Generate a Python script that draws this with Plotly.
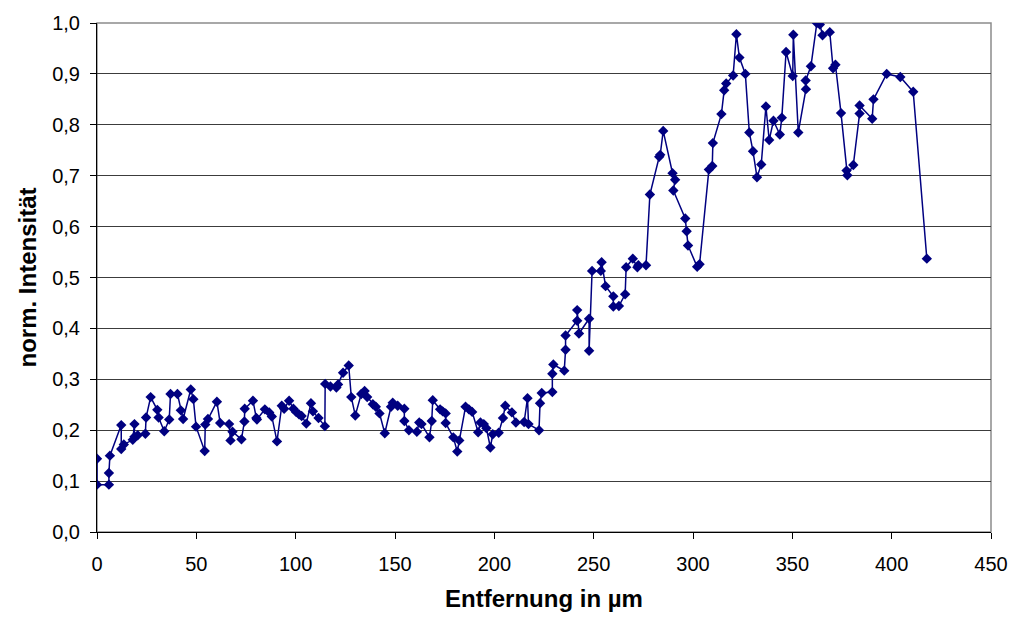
import plotly.graph_objects as go

# Intensitätsprofil: Entfernung (µm) und normierte Intensität
entfernung = [
    0, 0, 6, 6, 6.5, 12.2, 12.2, 13.5, 18, 18.85, 18.85, 20.5, 24.35, 24.7, 27.0,
    30.35, 31.0, 33.85, 36.35, 37.0, 40.5, 42.2, 43.35, 47.2, 48.5, 49.85, 54.2,
    54.5, 55.85, 60.35, 62.0, 66.5, 67.2, 68.2, 72.7, 74.2, 74.35, 78.5, 80.2,
    80.5, 84.5, 86.7, 88.0, 90.6, 93.0, 94.2, 96.7, 98.85, 100.2, 101.7, 103.0,
    105.35, 107.7, 108.7, 111.5, 114.7, 114.85, 117.5, 120.5, 121.35, 123.85,
    126.7, 128.0, 130.0, 133.0, 134.7, 136.0, 138.85, 140.35, 142.2, 144.85,
    148.0, 148.85, 151.35, 154.7, 154.7, 157.0, 161.0, 162.2, 163.35, 167.35,
    168.5, 169.0, 172.7, 174.0, 175.5, 175.5, 179.35, 181.35, 182.35, 185.5,
    187.2, 188.85, 191.85, 193.0, 194.7, 196.0, 198.0, 199.2, 202.2, 204.35,
    205.5, 208.85, 210.85, 215.0, 216.7, 217.2, 222.5, 223.0, 223.85, 229.2,
    229.2, 229.7, 235.2, 235.85, 235.85, 241.7, 241.7, 242.6, 247.7, 247.7,
    249.2, 253.6, 254.0, 256.0, 259.9, 259.9, 262.7, 265.85, 266.35, 269.7,
    272.0, 272.5, 276.35, 278.3, 283.0, 283.5, 285.0, 289.7, 291.0, 290.1,
    296.1, 296.8, 297.5, 302.1, 303.3, 308.0, 309.7, 310.0, 314.3, 315.7,
    316.7, 320.2, 321.85, 323.35, 326.35, 328.35, 330.2, 332.2, 334.35, 336.7,
    338.35, 340.5, 343.7, 344.7, 346.85, 350.2, 350.5, 353.0, 356.85, 356.7,
    359.35, 362.35, 363.85, 365.2, 368.85, 370.5, 371.7, 374.5, 377.3, 377.7,
    380.7, 383.85, 383.85, 390.2, 390.85, 397.5, 404.35, 410.85, 417.7,
]
intensitaet = [
    0.144, 0.093, 0.093, 0.116, 0.150, 0.210, 0.163, 0.172, 0.181, 0.212, 0.187,
    0.190, 0.193, 0.225, 0.265, 0.240, 0.225, 0.198, 0.221, 0.271, 0.271, 0.239,
    0.222, 0.280, 0.261, 0.207, 0.159, 0.211, 0.222, 0.256, 0.214, 0.212, 0.180,
    0.197, 0.182, 0.217, 0.242, 0.258, 0.224, 0.221, 0.241, 0.235, 0.227, 0.178,
    0.248, 0.242, 0.258, 0.242, 0.236, 0.231, 0.228, 0.213, 0.253, 0.237, 0.224,
    0.208, 0.291, 0.286, 0.284, 0.290, 0.313, 0.327, 0.265, 0.229, 0.271, 0.277,
    0.265, 0.251, 0.246, 0.233, 0.194, 0.246, 0.254, 0.248, 0.242, 0.218, 0.200,
    0.197, 0.215, 0.212, 0.186, 0.218, 0.259, 0.241, 0.237, 0.233, 0.214, 0.186,
    0.158, 0.180, 0.246, 0.241, 0.236, 0.196, 0.215, 0.212, 0.204, 0.166, 0.192,
    0.195, 0.224, 0.248, 0.235, 0.215, 0.216, 0.263, 0.212, 0.200, 0.253, 0.273,
    0.275, 0.311, 0.329, 0.317, 0.358, 0.386, 0.415, 0.436, 0.390, 0.419, 0.356,
    0.513, 0.513, 0.530, 0.483, 0.463, 0.443, 0.444, 0.467, 0.520, 0.537, 0.520,
    0.524, 0.524, 0.663, 0.737, 0.741, 0.788, 0.705, 0.692, 0.671, 0.616, 0.591,
    0.563, 0.521, 0.526, 0.712, 0.719, 0.764, 0.821, 0.868, 0.881, 0.897, 0.978,
    0.932, 0.900, 0.785, 0.748, 0.697, 0.722, 0.836, 0.770, 0.808, 0.781, 0.814,
    0.943, 0.896, 0.977, 0.785, 0.870, 0.887, 0.915, 1.000, 0.997, 0.976, 0.982,
    0.911, 0.918, 0.823, 0.710, 0.701, 0.721, 0.822, 0.838, 0.812, 0.850, 0.900,
    0.894, 0.865, 0.537,
]

x_ticks = [0, 50, 100, 150, 200, 250, 300, 350, 400, 450]
y_ticks = [0.0, 0.1, 0.2, 0.3, 0.4, 0.5, 0.6, 0.7, 0.8, 0.9, 1.0]

navy = "#000080"
font_family = "Liberation Sans, Arial, sans-serif"

fig = go.Figure()
fig.add_trace(go.Scatter(
    x=entfernung,
    y=intensitaet,
    mode="lines+markers",
    line=dict(color=navy, width=1.5),
    marker=dict(symbol="diamond", size=8, color=navy),
    showlegend=False,
    hoverinfo="x+y",
))

fig.update_layout(
    width=1020,
    height=620,
    margin=dict(l=97, r=21, t=19, b=88),
    paper_bgcolor="white",
    plot_bgcolor="white",
    separators=",.",
    font=dict(family=font_family, color="black", size=19),
    xaxis=dict(
        range=[0, 450],
        tickvals=x_ticks,
        ticks="outside",
        ticklen=6,
        tickcolor="black",
        showline=True,
        linecolor="black",
        linewidth=1,
        showgrid=False,
        zeroline=False,
        tickfont=dict(size=20),
        ticklabelstandoff=8,
        title=dict(text="<b>Entfernung in µm</b>", font=dict(size=24), standoff=16),
    ),
    yaxis=dict(
        range=[0, 1.0],
        tickvals=y_ticks,
        tickformat=".1f",
        ticks="outside",
        ticklen=6,
        tickcolor="black",
        showline=True,
        linecolor="black",
        linewidth=1,
        showgrid=True,
        gridcolor="#3c3c3c",
        gridwidth=1,
        zeroline=False,
        tickfont=dict(size=20),
        ticklabelstandoff=6,
        title=dict(text="<b>norm. Intensität</b>", font=dict(size=24), standoff=8),
    ),
    shapes=[dict(
        type="rect", xref="paper", yref="paper", x0=0, y0=0, x1=1, y1=1,
        line=dict(color="#8c8c8c", width=1.5), layer="below",
    )],
)

fig.write_html("out.html")
